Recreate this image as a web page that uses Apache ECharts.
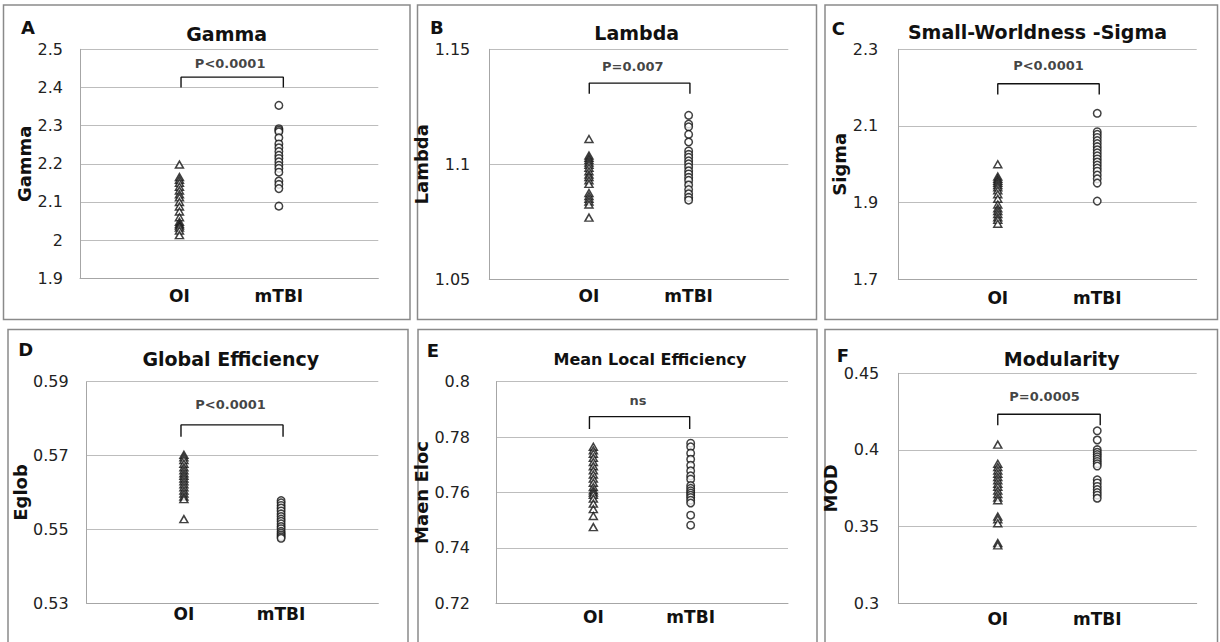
<!DOCTYPE html>
<html><head><meta charset="utf-8">
<script src="https://cdn.jsdelivr.net/npm/echarts@6/dist/echarts.min.js"></script>
<style>html,body{margin:0;padding:0;background:#fff}#c{width:1220px;height:642px}</style>
</head><body><div id="c"></div>
<script>
// ---------- DATA ----------
const groups = ['OI', 'mTBI'];
const letters = ['A', 'B', 'C', 'D', 'E', 'F'];
const titles = ['Gamma', 'Lambda', 'Small-Worldness -Sigma', 'Global Efficiency', 'Mean Local Efficiency', 'Modularity'];
const yNames = ['Gamma', 'Lambda', 'Sigma', 'Eglob', 'Maen Eloc', 'MOD'];
const pTexts = ['P<0.0001', 'P=0.007', 'P<0.0001', 'P<0.0001', 'ns', 'P=0.0005'];

const gammaTicks = [1.9, 2, 2.1, 2.2, 2.3, 2.4, 2.5];
const lambdaTicks = [1.05, 1.1, 1.15];
const sigmaTicks = [1.7, 1.9, 2.1, 2.3];
const eglobTicks = [0.53, 0.55, 0.57, 0.59];
const elocTicks = [0.72, 0.74, 0.76, 0.78, 0.8];
const modTicks = [0.3, 0.35, 0.4, 0.45];

const gammaOI = [2.198, 2.165, 2.158, 2.150, 2.140, 2.130, 2.120, 2.112, 2.100, 2.088, 2.075, 2.060, 2.048, 2.042, 2.038, 2.033, 2.025, 2.013];
const gammaTBI = [2.353, 2.292, 2.288, 2.284, 2.268, 2.252, 2.242, 2.232, 2.222, 2.214, 2.205, 2.196, 2.188, 2.178, 2.155, 2.146, 2.135, 2.089];
const lambdaOI = [1.1110, 1.1038, 1.1028, 1.1018, 1.1008, 1.0998, 1.0985, 1.0970, 1.0955, 1.0945, 1.0930, 1.0915, 1.0875, 1.0862, 1.0850, 1.0838, 1.0825, 1.0768];
const lambdaTBI = [1.1213, 1.1175, 1.1163, 1.1130, 1.1097, 1.1058, 1.1043, 1.1030, 1.1015, 1.1002, 1.0988, 1.0972, 1.0958, 1.0943, 1.0930, 1.0910, 1.0890, 1.0872, 1.0856, 1.0844];
const sigmaOI = [2.000, 1.968, 1.962, 1.957, 1.952, 1.946, 1.940, 1.932, 1.922, 1.910, 1.895, 1.885, 1.878, 1.870, 1.862, 1.855, 1.845];
const sigmaTBI = [2.133, 2.085, 2.078, 2.070, 2.062, 2.054, 2.046, 2.038, 2.030, 2.022, 2.014, 2.006, 1.998, 1.990, 1.982, 1.972, 1.962, 1.951, 1.904];
const eglobOI = [0.5702, 0.5695, 0.5688, 0.5678, 0.5668, 0.5660, 0.5652, 0.5645, 0.5638, 0.5630, 0.5622, 0.5614, 0.5605, 0.5597, 0.5589, 0.5582, 0.5528];
const eglobTBI = [0.5578, 0.5572, 0.5565, 0.5558, 0.5550, 0.5542, 0.5535, 0.5528, 0.5522, 0.5515, 0.5508, 0.5502, 0.5495, 0.5490, 0.5485, 0.5480, 0.5476];
const elocOI = [0.7765, 0.7752, 0.7740, 0.7725, 0.7710, 0.7695, 0.7680, 0.7665, 0.7650, 0.7635, 0.7620, 0.7608, 0.7600, 0.7592, 0.7578, 0.7560, 0.7540, 0.7515, 0.7475];
const elocTBI = [0.7778, 0.7765, 0.7742, 0.7720, 0.7698, 0.7678, 0.7660, 0.7648, 0.7625, 0.7615, 0.7606, 0.7598, 0.7590, 0.7582, 0.7572, 0.7562, 0.7518, 0.7482];
const modOI = [0.4035, 0.3910, 0.3888, 0.3866, 0.3845, 0.3823, 0.3802, 0.3780, 0.3760, 0.3735, 0.3712, 0.3690, 0.3672, 0.3565, 0.3548, 0.3522, 0.3393, 0.3378];
const modTBI = [0.4125, 0.4065, 0.4002, 0.3985, 0.3970, 0.3955, 0.3940, 0.3925, 0.3910, 0.3895, 0.3805, 0.3785, 0.3762, 0.3742, 0.3722, 0.3705, 0.3685];

// significance brackets: x span (group units), y low/high, text anchor
const bracketX = [[1.016, 2.045], [1.003, 2.013], [1.0, 2.02], [0.97, 2.02], [0.96, 1.99], [1.0, 2.03]];
const bracketY = [[2.40, 2.427], [1.1307, 1.1353], [2.182, 2.21], [0.5751, 0.5783], [0.7829, 0.7874], [0.4161, 0.4233]];
const pTextPos = [[1.51, 2.463], [1.44, 1.1426], [1.51, 2.258], [1.48, 0.5838], [1.46, 0.7931], [1.47, 0.435]];

const tickSets = [gammaTicks, lambdaTicks, sigmaTicks, eglobTicks, elocTicks, modTicks];
const oiSets = [gammaOI, lambdaOI, sigmaOI, eglobOI, elocOI, modOI];
const tbiSets = [gammaTBI, lambdaTBI, sigmaTBI, eglobTBI, elocTBI, modTBI];

// ---------- LAYOUT ----------
const layout = [
  { grid: [80, 49.3, 298.3, 229], frame: [3.5, 5, 406.5, 314.5], title: [226.7, 33.5, 19], letter: [21, 27], nameGap: 44, labelMargin: 17, xMargin: 9 },
  { grid: [489.3, 49.3, 299, 230], frame: [417.5, 5, 399, 314.5], title: [636.7, 33.3, 19], letter: [430, 27.5], nameGap: 44, labelMargin: 19, xMargin: 8 },
  { grid: [898.3, 49.3, 298.4, 230], frame: [825, 5, 392.5, 314.5], title: [1037.5, 31.7, 19], letter: [831.7, 28], nameGap: 46, labelMargin: 20, xMargin: 10 },
  { grid: [86.7, 381.7, 291.6, 221.6], frame: [8, 329.5, 400, 330], title: [230.8, 359, 19], letter: [18.3, 349], nameGap: 51, labelMargin: 18, xMargin: 2 },
  { grid: [496, 381.7, 292, 221.6], frame: [418, 329.5, 399, 330], title: [650, 359, 16], letter: [426.7, 350], nameGap: 49, labelMargin: 26, xMargin: 5 },
  { grid: [898.3, 373.3, 298.4, 230], frame: [825, 329.5, 392.5, 330], title: [1061.7, 359, 19], letter: [836.7, 355], nameGap: 43, labelMargin: 19, xMargin: 7 }
];

const FONT = 'DejaVu Sans';
const fmt = v => String(Math.round(v * 10000) / 10000);

const grids = [], xAxes = [], yAxes = [], series = [], graphics = [];

layout.forEach((L, i) => {
  const ticks = tickSets[i];
  graphics.push({
    type: 'rect', z: -10, silent: true,
    shape: { x: L.frame[0], y: L.frame[1], width: L.frame[2], height: L.frame[3] },
    style: { fill: '#fff', stroke: '#8a8a8a', lineWidth: 1.5 }
  });
  graphics.push({
    type: 'text', x: L.title[0], y: L.title[1], silent: true,
    style: { text: titles[i], font: 'bold ' + L.title[2] + 'px "' + FONT + '"', fill: '#111', align: 'center', verticalAlign: 'middle' }
  });
  graphics.push({
    type: 'text', x: L.letter[0], y: L.letter[1], silent: true,
    style: { text: letters[i], font: 'bold 18px "' + FONT + '"', fill: '#111', align: 'left', verticalAlign: 'middle' }
  });
  grids.push({ left: L.grid[0], top: L.grid[1], width: L.grid[2], height: L.grid[3], containLabel: false });
  xAxes.push({
    type: 'value', gridIndex: i, min: 0, max: 3, interval: 1,
    splitLine: { show: false }, axisTick: { show: false },
    axisLine: { onZero: false, lineStyle: { color: '#a6a6a6', width: 1 } },
    axisLabel: {
      customValues: [1, 2], margin: L.xMargin,
      formatter: v => groups[Math.round(v) - 1] || '',
      fontFamily: FONT, fontSize: 17, fontWeight: 'bold', color: '#111'
    }
  });
  yAxes.push({
    type: 'value', gridIndex: i, min: ticks[0], max: ticks[ticks.length - 1],
    axisTick: { show: false, customValues: ticks },
    axisLabel: { customValues: ticks, formatter: fmt, margin: L.labelMargin, fontFamily: FONT, fontSize: 16, color: '#222' },
    splitLine: { show: true, lineStyle: { color: '#bdbdbd', width: 1 } },
    axisLine: { show: true, onZero: false, lineStyle: { color: '#a6a6a6', width: 1 } },
    name: yNames[i], nameLocation: 'middle', nameGap: L.nameGap,
    nameTextStyle: { fontFamily: FONT, fontSize: 18, fontWeight: 'bold', color: '#111' }
  });
  series.push({
    type: 'scatter', xAxisIndex: i, yAxisIndex: i, symbol: 'triangle', symbolSize: [8, 7],
    itemStyle: { color: '#fff', borderColor: '#111', borderWidth: 1.5 },
    data: oiSets[i].map(v => [1, v]), z: 3
  });
  series.push({
    type: 'scatter', xAxisIndex: i, yAxisIndex: i, symbol: 'circle', symbolSize: 7.5,
    itemStyle: { color: '#fff', borderColor: '#111', borderWidth: 1.5 },
    data: tbiSets[i].map(v => [2, v]), z: 3
  });
  const bx = bracketX[i], by = bracketY[i];
  series.push({
    type: 'line', xAxisIndex: i, yAxisIndex: i, symbol: 'none', silent: true,
    lineStyle: { color: '#111', width: 1.4 },
    data: [[bx[0], by[0]], [bx[0], by[1]], [bx[1], by[1]], [bx[1], by[0]]]
  });
  series.push({
    type: 'scatter', xAxisIndex: i, yAxisIndex: i, symbolSize: 1, silent: true,
    itemStyle: { color: 'rgba(0,0,0,0)' },
    label: { show: true, position: 'inside', formatter: pTexts[i], fontFamily: FONT, fontSize: 13, fontWeight: 'bold', color: '#111' },
    data: [pTextPos[i]]
  });
});

const chart = echarts.init(document.getElementById('c'), null, { renderer: 'svg' });
chart.setOption({
  animation: false,
  backgroundColor: '#fff',
  textStyle: { fontFamily: FONT },
  graphic: graphics,
  grid: grids, xAxis: xAxes, yAxis: yAxes, series: series
});
</script>
</body></html>
